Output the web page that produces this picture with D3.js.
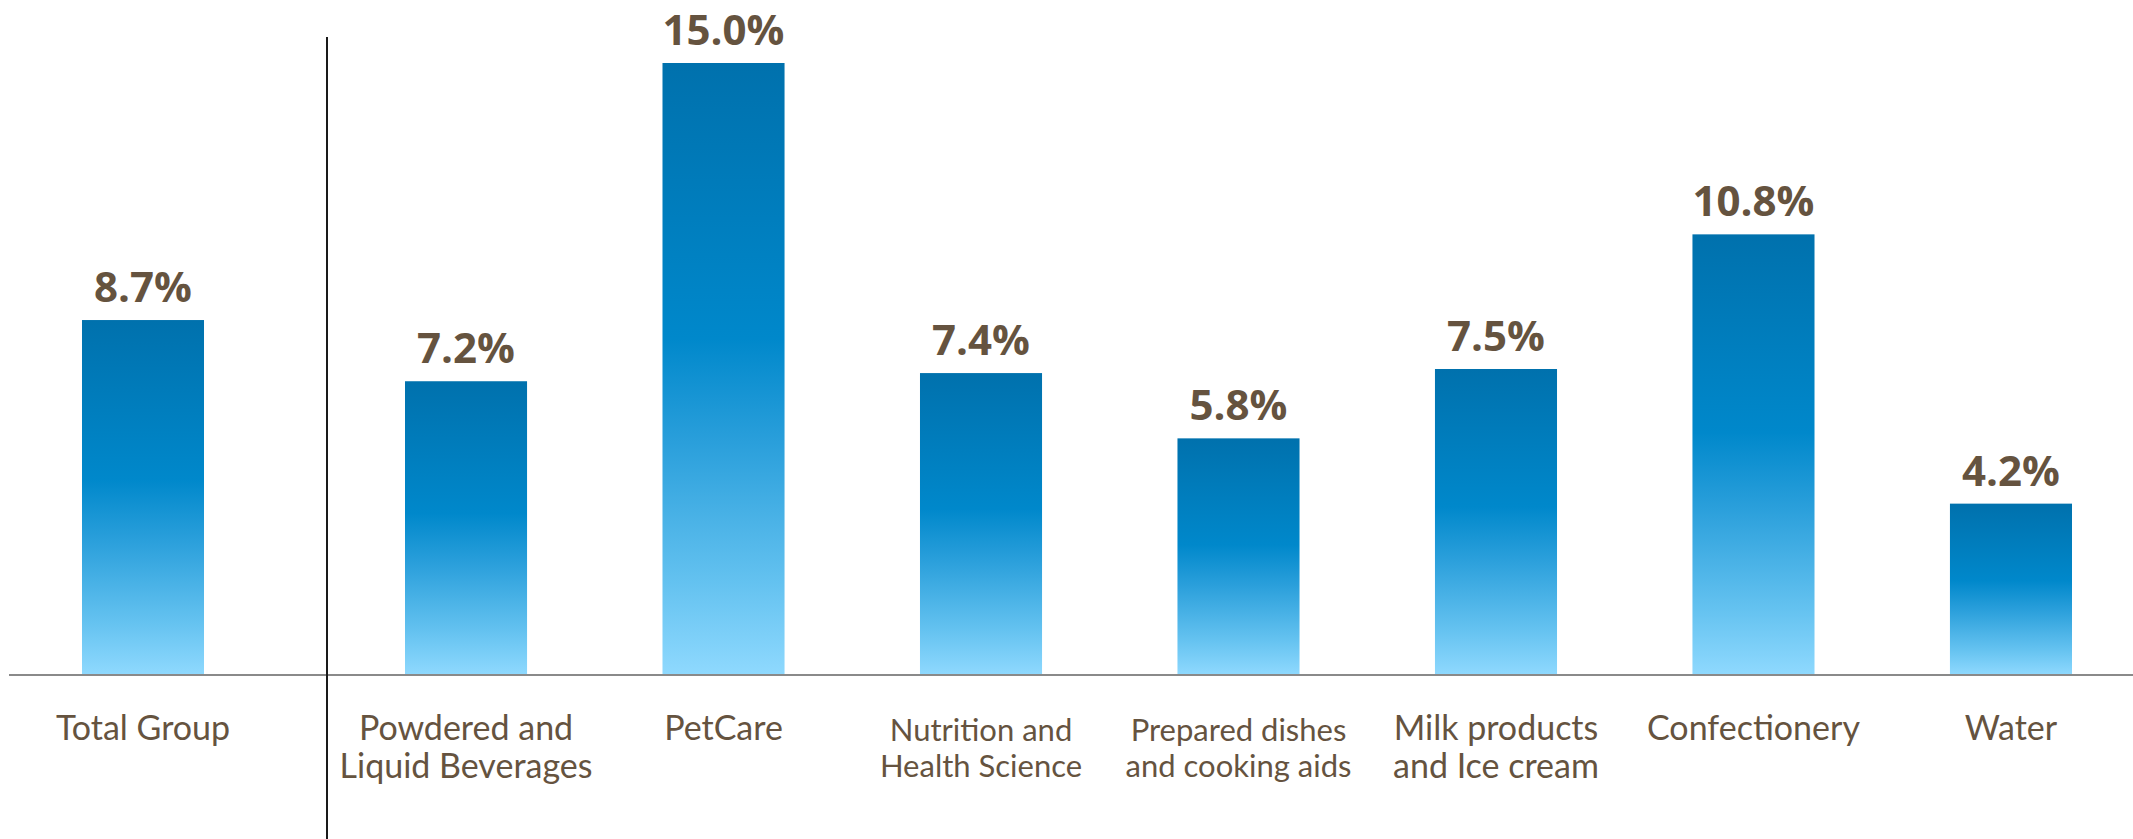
<!DOCTYPE html>
<html>
<head>
<meta charset="utf-8">
<script src="https://cdn.jsdelivr.net/npm/d3@7"></script>
<style>
  html, body { margin: 0; padding: 0; background: #ffffff; }
  svg { display: block; }
</style>
</head>
<body>
<svg id="chart" width="2133" height="839"></svg>
<script>
// ---- data ----
const totalCategory = "Total Group";
const totalValue = 8.7;
const categories = [
  "Powdered and\nLiquid Beverages",
  "PetCare",
  "Nutrition and\nHealth Science",
  "Prepared dishes\nand cooking aids",
  "Milk products\nand Ice cream",
  "Confectionery",
  "Water"
];
const values = [7.2, 15.0, 7.4, 5.8, 7.5, 10.8, 4.2];
const valueLabels = ["7.2%", "15.0%", "7.4%", "5.8%", "7.5%", "10.8%", "4.2%"];
const totalLabel = "8.7%";

// ---- styling ----
const smallLabelCats = new Set(["Nutrition and\nHealth Science", "Prepared dishes\nand cooking aids"]);
const W = 2133, H = 839;
const baseY = 675;
const textColor = "#65533f";

const svg = d3.select("#chart");

const defs = svg.append("defs");
const grad = defs.append("linearGradient")
  .attr("id", "barGrad").attr("x1", 0).attr("y1", 0).attr("x2", 0).attr("y2", 1);
[[0, "#0071ad"], [0.45, "#0088cb"], [0.62, "#2a9fdb"], [0.85, "#64c2f0"], [1, "#8fd9fe"]]
  .forEach(([o, c]) => grad.append("stop").attr("offset", o).attr("stop-color", c));

const y = d3.scaleLinear().domain([0, 15]).range([baseY, 63]);

const xSeg = d3.scaleBand().domain(categories)
  .range([353.5, 2123.5]).paddingInner(0.526).paddingOuter(0.2);
const xTot = d3.scaleBand().domain([totalCategory])
  .range([-46.7, 332.7]).paddingInner(0.526).paddingOuter(0.5);

const rows = [{cat: totalCategory, v: totalValue, lab: totalLabel, x: xTot}]
  .concat(categories.map((c, i) => ({cat: c, v: values[i], lab: valueLabels[i], x: xSeg})));

// bars
svg.append("g").selectAll("rect").data(rows).join("rect")
  .attr("x", d => d.x(d.cat))
  .attr("width", d => d.x.bandwidth())
  .attr("y", d => y(d.v))
  .attr("height", d => y(0) - y(d.v))
  .attr("fill", "url(#barGrad)");

// baseline
svg.append("line")
  .attr("x1", 9).attr("x2", W).attr("y1", y(0)).attr("y2", y(0))
  .attr("stroke", "#8a8a8a").attr("stroke-width", 2);

// separator
svg.append("line")
  .attr("x1", 327).attr("x2", 327).attr("y1", 37).attr("y2", H)
  .attr("stroke", "#1a1a1a").attr("stroke-width", 2);

// value labels
svg.append("g").selectAll("text").data(rows).join("text")
  .attr("x", d => d.x(d.cat) + d.x.bandwidth() / 2)
  .attr("y", d => y(d.v) - 18)
  .attr("text-anchor", "middle")
  .attr("font-family", "'Open Sans', sans-serif")
  .attr("font-weight", 700)
  .attr("font-size", 42)
  .attr("fill", textColor)
  .text(d => d.lab);

// category labels
const catG = svg.append("g");
rows.forEach(d => {
  const small = smallLabelCats.has(d.cat);
  const fs = small ? 31 : 34;
  const lines = d.cat.split("\n");
  const t = catG.append("text")
    .attr("x", d.x(d.cat) + d.x.bandwidth() / 2)
    .attr("y", small ? 741 : 740)
    .attr("text-anchor", "middle")
    .attr("font-family", "Lato, sans-serif")
    .attr("font-size", fs)
    .attr("fill", textColor);
  lines.forEach((ln, i) => {
    t.append("tspan")
      .attr("x", d.x(d.cat) + d.x.bandwidth() / 2)
      .attr("dy", i === 0 ? 0 : (small ? 36 : 38))
      .text(ln);
  });
});
</script>
</body>
</html>
